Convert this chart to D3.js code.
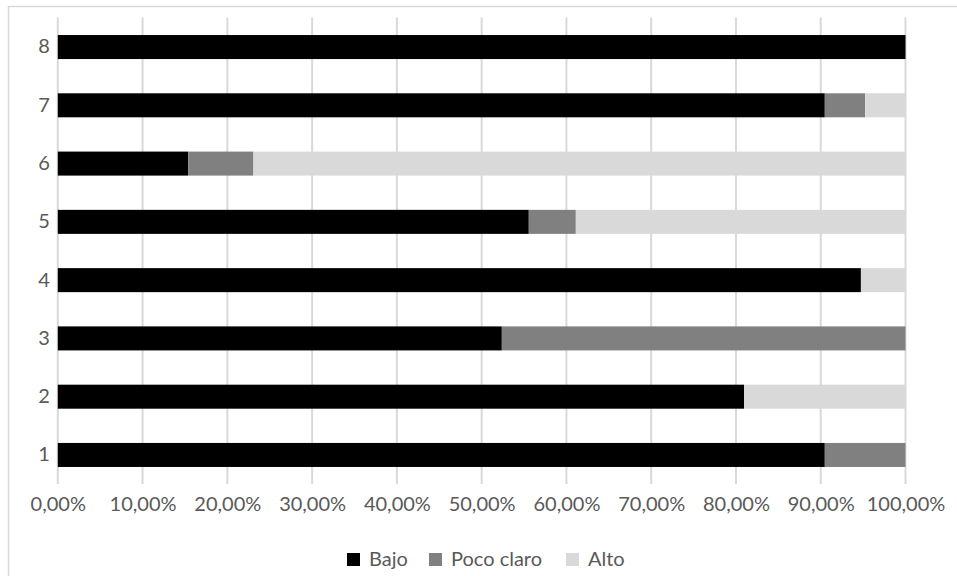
<!DOCTYPE html>
<html>
<head>
<meta charset="utf-8">
<script src="https://cdn.jsdelivr.net/npm/d3@7/dist/d3.min.js"></script>
<style>
  html, body { margin: 0; padding: 0; background: #fff; }
  svg { display: block; }
  text { font-family: Lato, "Open Sans", sans-serif; fill: #595959; }
</style>
</head>
<body>
<svg id="chart" width="957" height="576"></svg>
<script>
// Category labels (bottom to top) and the share of each response level (%)
const categories = ["1", "2", "3", "4", "5", "6", "7", "8"];
const seriesNames = ["Bajo", "Poco claro", "Alto"];
const bajo      = [90.48, 80.95, 52.38, 94.74, 55.56, 15.38, 90.48, 100];
const pocoClaro = [9.52,  0,     47.62, 0,     5.55,  7.70,  4.76,  0];
const alto      = [0,     19.05, 0,     5.26,  38.89, 76.92, 4.76,  0];
const seriesColors = ["#000000", "#808080", "#d9d9d9"];
const xTicks = [0, 10, 20, 30, 40, 50, 60, 70, 80, 90, 100];

const svg = d3.select("#chart");
const W = 957, H = 576;

// outer chart frame
svg.append("rect")
  .attr("x", 8.5).attr("y", 6.5)
  .attr("width", W + 20).attr("height", H + 20)
  .attr("fill", "none").attr("stroke", "#d9d9d9").attr("stroke-width", 1.5);

const plot = { left: 57.8, right: 905.5, top: 17.9, bottom: 484.1 };

const x = d3.scaleLinear().domain([0, 100]).range([plot.left, plot.right]);
const y = d3.scaleBand()
  .domain(categories.slice().reverse())
  .range([plot.top, plot.bottom])
  .paddingInner(0.588).paddingOuter(0.294);

// vertical gridlines
svg.append("g")
  .selectAll("line")
  .data(xTicks)
  .join("line")
  .attr("x1", d => x(d)).attr("x2", d => x(d))
  .attr("y1", plot.top - 0.5).attr("y2", plot.bottom)
  .attr("stroke", "#d9d9d9").attr("stroke-width", 2);

// stacked bars
const rows = categories.map((c, i) => ({ cat: c, Bajo: bajo[i], "Poco claro": pocoClaro[i], Alto: alto[i] }));
const stacked = d3.stack().keys(seriesNames)(rows);

svg.append("g")
  .selectAll("g")
  .data(stacked)
  .join("g")
  .attr("fill", (d, i) => seriesColors[i])
  .selectAll("rect")
  .data(d => d)
  .join("rect")
  .attr("x", d => x(d[0]))
  .attr("y", d => y(d.data.cat))
  .attr("width", d => Math.max(0, x(Math.min(100, d[1])) - x(d[0])))
  .attr("height", y.bandwidth());

// x axis labels
const xAxis = d3.axisBottom(x)
  .tickValues(xTicks)
  .tickSize(0)
  .tickPadding(0)
  .tickFormat(d => d3.format(".2f")(d).replace(".", ",") + "%");

const gx = svg.append("g")
  .attr("transform", `translate(0, ${plot.bottom + 27})`)
  .call(xAxis);
gx.select(".domain").remove();
gx.selectAll("text")
  .attr("font-size", 20)
  .attr("dy", 0)
  .style("font-family", "Lato, 'Open Sans', sans-serif")
  .attr("fill", "#595959");

// y axis labels
const yAxis = d3.axisLeft(y).tickSize(0).tickPadding(0);
const gy = svg.append("g")
  .attr("transform", `translate(${plot.left - 8}, 0)`)
  .call(yAxis);
gy.select(".domain").remove();
gy.selectAll("text")
  .attr("font-size", 20)
  .style("font-family", "Lato, 'Open Sans', sans-serif")
  .attr("fill", "#595959");

// legend
const legendX = [347, 429, 566];
const legend = svg.append("g");
seriesNames.forEach((name, i) => {
  legend.append("rect")
    .attr("x", legendX[i]).attr("y", 553)
    .attr("width", 13).attr("height", 13)
    .attr("fill", seriesColors[i]);
  legend.append("text")
    .attr("x", legendX[i] + 22).attr("y", 566)
    .attr("font-size", 20)
    .text(name);
});
</script>
</body>
</html>
